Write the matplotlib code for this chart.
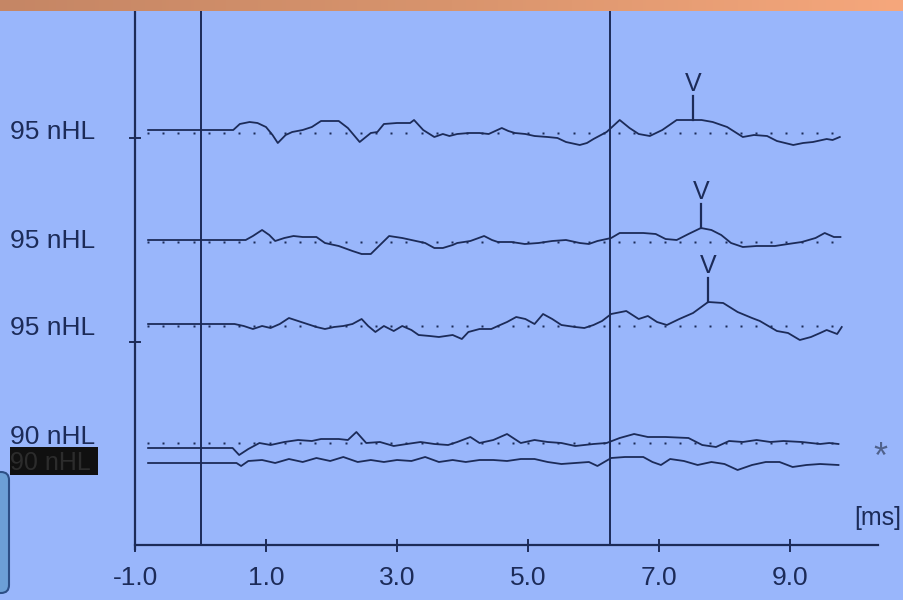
import numpy as np
import matplotlib.pyplot as plt
from matplotlib.patches import FancyBboxPatch, Rectangle
from matplotlib.colors import LinearSegmentedColormap

plt.rcParams['font.family'] = ['Liberation Sans', 'DejaVu Sans']

bg = '#99b6fb'
ink = '#1c2b58'

# ABR sweeps: (time in ms, amplitude in screen px, positive = up)
trace1 = [(-0.8, 0), (0.5, 0), (0.6, 6), (0.75, 8), (0.87, 7), (1.0, 3), (1.1, -5), (1.18, -13),
          (1.3, -5), (1.4, -2), (1.56, 0), (1.7, 3), (1.84, 9), (2.11, 9), (2.25, 2), (2.43, -12),
          (2.6, -3), (2.7, -2), (2.8, 6), (3.0, 7), (3.2, 7), (3.26, 10), (3.4, 0), (3.57, -7),
          (3.7, -4), (3.8, -6), (3.92, -4), (4.1, -3), (4.26, -3), (4.4, -4), (4.6, 2), (4.7, -1),
          (4.8, -3), (4.96, -4), (5.1, -6), (5.3, -7), (5.45, -8), (5.58, -12), (5.79, -15),
          (5.9, -13), (6.0, -9), (6.2, -2), (6.4, 10), (6.55, 2), (6.69, -4), (6.86, -6), (7.05, 0),
          (7.27, 10), (7.52, 10), (7.65, 10), (7.82, 8), (8.04, 3), (8.28, -7), (8.45, -5),
          (8.65, -6), (8.8, -11), (9.05, -15), (9.2, -13), (9.35, -12), (9.56, -9), (9.65, -10),
          (9.76, -7)]
trace2 = [(-0.8, 0), (0.69, 0), (0.8, 4), (0.94, 10), (1.05, 5), (1.14, -1), (1.28, 2), (1.42, 4),
          (1.56, 3), (1.77, 3), (1.9, -3), (2.11, -6), (2.32, -11), (2.46, -14), (2.6, -14),
          (2.74, -5), (2.88, 4), (3.08, 2), (3.29, -1), (3.43, -3), (3.57, -8), (3.7, -8),
          (3.85, -5), (3.92, -3), (4.12, -1), (4.33, 4), (4.45, 0), (4.54, -2), (4.75, -2),
          (4.95, -4), (5.16, -3), (5.37, -1), (5.58, 0), (5.79, -3), (5.93, -4), (6.06, -1),
          (6.27, 2), (6.4, 7), (6.76, 7), (6.95, 6), (7.1, 1), (7.27, 0), (7.45, 6), (7.64, 12),
          (7.8, 10), (7.95, 5), (8.1, -3), (8.28, -7), (8.49, -6), (8.77, -6), (8.97, -4),
          (9.18, -2), (9.39, 2), (9.53, 7), (9.67, 3), (9.77, 3)]
trace3 = [(-0.8, 0), (0.52, 0), (0.66, -2), (0.8, -5), (0.94, -2), (1.07, -4), (1.21, 0), (1.35, 6),
          (1.49, 3), (1.63, 0), (1.77, -3), (1.9, -5), (2.04, -3), (2.18, -2), (2.32, 0), (2.46, 5),
          (2.56, -2), (2.67, -8), (2.8, -2), (2.95, -7), (3.08, -2), (3.22, -6), (3.33, -11),
          (3.5, -12), (3.64, -13), (3.85, -11), (3.99, -15), (4.09, -8), (4.26, -5), (4.44, -5),
          (4.54, -2), (4.68, 2), (4.82, 7), (4.96, 5), (5.1, 0), (5.23, 10), (5.37, 5), (5.51, -1),
          (5.72, -3), (5.86, -4), (6.0, -1), (6.13, 3), (6.27, 10), (6.5, 13), (6.69, 5), (6.83, 8),
          (6.97, 2), (7.12, -1), (7.31, 5), (7.52, 11), (7.75, 22), (7.98, 21), (8.2, 12),
          (8.42, 6), (8.54, 3), (8.8, -7), (8.97, -9), (9.15, -16), (9.32, -13), (9.46, -9),
          (9.56, -6), (9.72, -10), (9.79, -3)]
trace4 = [(-0.8, 0), (0.49, 0), (0.59, -7), (0.73, -1), (0.9, 5), (1.07, 3), (1.28, 6), (1.49, 8),
          (1.7, 7), (1.84, 9), (2.11, 9), (2.25, 8), (2.38, 16), (2.53, 5), (2.74, 6), (2.95, 2),
          (3.15, 4), (3.36, 6), (3.57, 4), (3.78, 3), (3.92, 6), (4.12, 11), (4.26, 5), (4.47, 8),
          (4.68, 14), (4.89, 5), (5.1, 8), (5.3, 6), (5.51, 5), (5.72, 2), (6.0, 4), (6.2, 5),
          (6.4, 10), (6.62, 14), (6.83, 11), (7.1, 11), (7.45, 10), (7.66, 3), (7.87, 1),
          (8.07, 7), (8.28, 6), (8.49, 8), (8.7, 6), (8.9, 7), (9.18, 6), (9.46, 4), (9.6, 5),
          (9.74, 4)]
trace5 = [(-0.8, 0), (0.55, 0), (0.62, -3), (0.73, 2), (0.94, 3), (1.14, 0), (1.35, 4), (1.56, 1),
          (1.77, 5), (1.98, 2), (2.18, 6), (2.4, 1), (2.6, 3), (2.8, 1), (3.0, 3), (3.22, 2),
          (3.43, 6), (3.64, 1), (3.85, 3), (4.05, 1), (4.26, 3), (4.47, 3), (4.68, 2), (4.89, 4),
          (5.1, 4), (5.3, 1), (5.51, -1), (5.72, 0), (5.93, 1), (6.06, -3), (6.27, 5), (6.48, 6),
          (6.76, 6), (6.9, 1), (7.03, -2), (7.17, 4), (7.38, 2), (7.59, -2), (7.8, 1), (8.0, -1),
          (8.2, -7), (8.42, -2), (8.63, 1), (8.84, 1), (9.04, -4), (9.25, -2), (9.46, -1),
          (9.74, -2)]

traces = [trace1, trace2, trace3, trace4, trace5]
levels = ['95 nHL', '95 nHL', '95 nHL', '90 nHL', '90 nHL']
wave_v = [7.52, 7.64, 7.75]          # wave V latency (ms) for the first three sweeps
cursors = [0.0, 6.25]                # vertical cursor lines (ms)
xticks = [-1.0, 1.0, 3.0, 5.0, 7.0, 9.0]

# screen layout, px from the top
base_y = [130, 240, 324, 448, 463]
dot_y = [132.5, 242, 326, 443, None]
label_y = [132, 241, 328, 437, 463]
axis_y = 545

fig = plt.figure(figsize=(9.04, 6.0), dpi=100)
fig.patch.set_facecolor(bg)

ax = fig.add_axes([0, 0, 1, 1])
ax.set_xlim(-1 - 135 / 65.5, -1 + (904 - 135) / 65.5)
ax.set_ylim(600, 0)
ax.axis('off')

# overlay in plain pixel coordinates for the decorations
px = fig.add_axes([0, 0, 1, 1], facecolor='none')
px.set_xlim(0, 904)
px.set_ylim(600, 0)
px.axis('off')

# axes and cursors
ax.plot([-1, -1], [0, axis_y + 4], color=ink, lw=1.6)
ax.plot([-1, 10.34], [axis_y, axis_y], color=ink, lw=1.6)
for c in cursors:
    ax.plot([c, c], [0, axis_y], color=ink, lw=1.4)
for t in xticks:
    ax.plot([t, t], [axis_y - 5, axis_y + 6], color=ink, lw=1.4)
    ax.text(t, 578, f'{t:.1f}', ha='center', va='center', fontsize=19, color=ink)
ax.text(-1 + (878 - 135) / 65.5, 518, '[ms]', ha='center', va='center', fontsize=18, color=ink)
for y in [138, 342]:
    px.plot([130, 140], [y, y], color=ink, lw=1.4)

# sweeps, dotted reference rows and wave V markers
for i, tr in enumerate(traces):
    t = np.array([p[0] for p in tr])
    a = np.array([p[1] for p in tr])
    ax.plot(t, base_y[i] - a, color=ink, lw=1.3, zorder=3)
    if dot_y[i] is not None:
        dt = np.arange(-0.8, 9.8, 0.232)
        ax.plot(dt, np.full(dt.size, dot_y[i]), ls='none', marker='s', ms=1.5,
                mec='none', color=ink, zorder=2)
for i, lat in enumerate(wave_v):
    t = np.array([p[0] for p in traces[i]])
    a = np.array([p[1] for p in traces[i]])
    top = base_y[i] - np.interp(lat, t, a)
    ax.plot([lat, lat], [top, top - 24], color=ink, lw=1.6, zorder=3)
    ax.text(lat, top - 36, 'V', ha='center', va='center', fontsize=18, color=ink)

# intensity labels; the last one sits in a black highlight bar
for i, lab in enumerate(levels[:4]):
    px.text(10, label_y[i], lab, ha='left', va='center', fontsize=19, color=ink)
px.add_patch(Rectangle((10, 447), 88, 28, fc='#101010', ec='none', zorder=4))
px.text(10, label_y[4], levels[4], ha='left', va='center', fontsize=18, color='#2c2c2c', zorder=5)

px.text(880, 458, '*', ha='center', va='center', fontsize=26, color='#50628c')

# title strip and side tab
cmap = LinearSegmentedColormap.from_list('strip', ['#c58665', '#d8946d', '#f6a77c'])
px.imshow(np.linspace(0, 1, 256)[None, :], extent=[0, 904, 11, 0], cmap=cmap, aspect='auto',
          zorder=6)
px.add_patch(FancyBboxPatch((-20, 472), 29, 121, boxstyle='round,pad=0,rounding_size=8',
                            fc='#6c9fd6', ec='#2d4f86', lw=1.5, zorder=6))
px.set_xlim(0, 904)
px.set_ylim(600, 0)

fig.savefig('out.png', dpi=100, facecolor=bg)
